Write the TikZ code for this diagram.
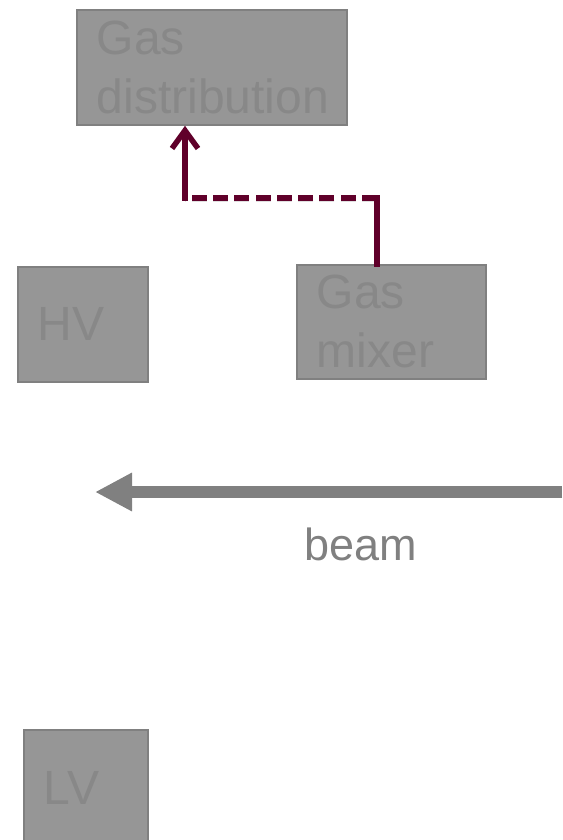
\documentclass[tikz,border=0pt]{standalone}
\usepackage{fontspec}
\setmainfont{Liberation Sans}
\usetikzlibrary{arrows.meta,calc}

\definecolor{boxfill}{RGB}{150,150,150}
\definecolor{boxline}{RGB}{128,128,128}
\definecolor{boxtext}{RGB}{136,136,136}
\definecolor{beamgray}{RGB}{128,128,128}
\definecolor{gasline}{RGB}{96,0,42}

\tikzset{
  unitbox/.style={draw=boxline, line width=1.8pt, fill=boxfill, text=boxtext,
    anchor=north west, inner xsep=20pt, inner ysep=0pt, align=left,
    font=\fontsize{48}{59}\selectfont},
  gaspipe/.style={draw=gasline, line width=5.5pt},
  pipeshadow/.style={draw=black, opacity=0.12, line width=7pt},
  beamline/.style={draw=beamgray, line width=12.5pt,
    -{Triangle[length=37pt,width=36pt]}},
  beamlabel/.style={text=beamgray, font=\fontsize{45}{52}\selectfont, anchor=base west}
}

\begin{document}
\begin{tikzpicture}[x=1pt,y=-1pt]
  \useasboundingbox (0,0) rectangle (562,840);

  % units
  \node[unitbox, minimum width=270pt, minimum height=115pt, text width=230pt]
    (dist) at (76,9) {Gas\\distribution};
  \node[unitbox, minimum width=189pt, minimum height=114pt, text width=149pt]
    (mixer) at (296,264) {Gas\\mixer};
  \node[unitbox, minimum width=130pt, minimum height=115pt, text width=90pt]
    (hv) at (17,266) {HV};
  \node[unitbox, minimum width=124pt, minimum height=116pt, text width=84pt]
    (lv) at (23,729) {LV};

  % gas line from the mixer to the distribution
  \coordinate (bendR) at (377,198);
  \coordinate (bendL) at (185,198);
  \begin{scope}[shift={(1.5,3)}]
    \draw[pipeshadow, dash pattern=on 15pt off 6.3pt] (bendR) -- (bendL);
  \end{scope}
  \draw[gaspipe, line cap=rect] (bendR |- mixer.north) -- (bendR);
  \draw[gaspipe, dash pattern=on 15pt off 6.3pt] (bendR) -- (bendL);
  \draw[gaspipe, line cap=rect, -{Straight Barb[length=18pt,width=26pt]}]
    (bendL) -- (bendL |- dist.south);

  % beam direction
  \coordinate (beamin) at (562,492);
  \coordinate (beamout) at (95,492);
  \draw[beamline] (beamin) -- (beamout);
  \node[beamlabel] (beam) at (301,560) {beam};
\end{tikzpicture}
\end{document}
